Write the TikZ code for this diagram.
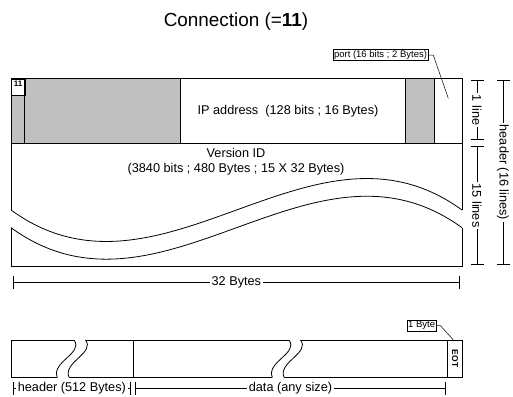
\documentclass[tikz,border=0pt]{standalone}
\usepackage{fontspec}
\setmainfont{Liberation Sans}
\usetikzlibrary{arrows.meta, positioning, calc}
\definecolor{padcolor}{RGB}{192, 192, 192}
\tikzset{
	field/.style={draw=black, line width=0.8pt},
	caption/.style={font=\fontsize{12.7}{15}\selectfont, align=center, inner sep=1pt},
	tag/.style={draw=black, fill=white, line width=0.5pt, font=\fontsize{9.5}{10}\selectfont, inner sep=1pt},
	leader/.style={line width=0.5pt},
	dimension/.style={{Bar[width=13pt]}-{Bar[width=13pt]}, line width=0.6pt},
	dimtext/.style={fill=white, font=\fontsize{12.7}{15}\selectfont, inner sep=2pt}
}

\begin{document}
\begin{tikzpicture}[x=1pt, y=-1pt]
	\useasboundingbox (0,0) rectangle (513,396);

	% title
	\node (title) at (236,22) {\fontsize{18.9}{22}\selectfont Connection (=\textbf{11})};

	% header, line 1
	\fill[padcolor] (11,78.5) rectangle (180,143);
	\fill[padcolor] (405.7,78.5) rectangle (434,143);
	\node (type) [draw=black, fill=white, line width=0.5pt, minimum width=13.5pt, minimum height=16.5pt, inner sep=1.5pt,
		anchor=north west, align=left, text depth=6.5pt, font=\fontsize{8}{8}\selectfont\bfseries] at (11,78.5) {11};
	\draw[field] (24.5,78.5) -- (24.5,143);
	\draw[field] (180,78.5) -- (180,143);
	\draw[field] (405.7,78.5) -- (405.7,143);
	\draw[field] (434,78.5) -- (434,143);
	\draw[field] (11,143) -- (462,143);
	\node (ip) [caption] at (288,111) {IP address\ \ (128 bits ; 16 Bytes)};

	% header, lines 2-16
	\draw[field] (11,210) -- (11,78.5) -- (462,78.5) -- (462,210);
	\draw[field] (11,210) .. controls (161,319) and (312,101) .. (462,210);
	\draw[field] (11,227.7) .. controls (161,336.7) and (312,118.7) .. (462,227.7);
	\draw[field] (11,227.7) -- (11,266.7) -- (462,266.7) -- (462,227.7);
	\node (version) [caption] at (236,161.5) {Version ID\\(3840 bits ; 480 Bytes ; 15 X 32 Bytes)};

	% port
	\node (port) [tag] at (380.5,55) {port (16 bits ; 2 Bytes)};
	\coordinate (portend) at (448.3,98.3);
	\draw[leader] (port.east) -- ++(5,0) -- (portend);

	% dimensions
	\coordinate (l1a) at (477,80);
	\coordinate (l1b) at (477,140);
	\coordinate (l15a) at (477,146);
	\coordinate (l15b) at (477,265);
	\coordinate (hda) at (503,80);
	\coordinate (hdb) at (503,265);
	\coordinate (wa) at (12.7,282.3);
	\coordinate (wb) at (460,282.3);
	\draw[dimension] (l1a) -- node (oneline) [dimtext, rotate=-90] {1 line} (l1b);
	\draw[dimension] (l15a) -- node (fifteen) [dimtext, rotate=-90] {15 lines} (l15b);
	\draw[dimension] (hda) -- node (hdlines) [dimtext, rotate=-90] {header (16 lines)} (hdb);
	\draw[dimension] (wa) -- node (width) [dimtext] {32 Bytes} (wb);

	% file
	\draw[field] (11,340) rectangle (462,377.3);
	\draw[field] (133.3,340) -- (133.3,377.3);
	\draw[field] (447.7,340) -- (447.7,377.3);
	\foreach \bx in {0, 215} {
		\begin{scope}[xshift=\bx pt]
			\fill[white] (74,338.5) -- (74,340) .. controls (84,353) and (51,362) .. (57.3,377.3) -- (57.3,378.8)
				-- (69,378.8) -- (69,377.3) .. controls (62.7,362) and (95.5,353) .. (85.5,340) -- (85.5,338.5) -- cycle;
			\draw[field] (74,340) .. controls (84,353) and (51,362) .. (57.3,377.3);
			\draw[field] (85.5,340) .. controls (95.5,353) and (62.7,362) .. (69,377.3);
		\end{scope}
	}
	\node (eot) [rotate=-90, font=\fontsize{8.5}{9}\selectfont\bfseries] at (455,358.5) {EOT};
	\node (byte) [tag] at (421.6,325.5) {1 Byte};
	\coordinate (eotend) at (454,340.7);
	\draw[leader] (byte.east) -- ++(4,0) -- (eotend);

	\coordinate (hla) at (12.7,388.3);
	\coordinate (hlb) at (131,388.3);
	\coordinate (dla) at (135.3,388.3);
	\coordinate (dlb) at (445.7,388.3);
	\draw[dimension] (hla) -- node (hdrsize) [dimtext] {header (512 Bytes)} (hlb);
	\draw[dimension] (dla) -- node (datsize) [dimtext] {data (any size)} (dlb);
\end{tikzpicture}
\end{document}
